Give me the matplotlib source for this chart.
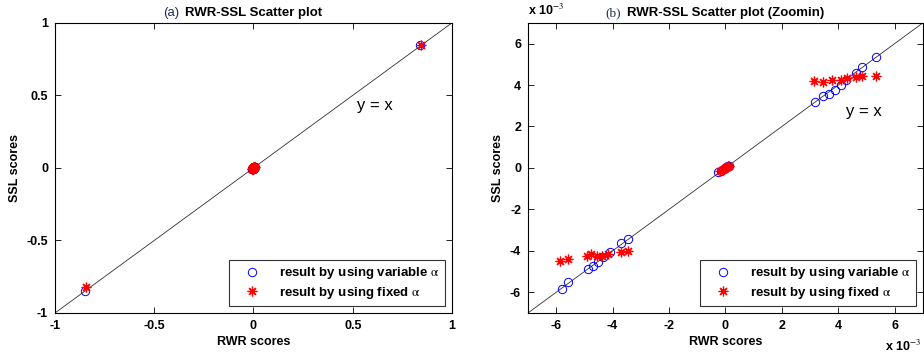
import matplotlib
matplotlib.use("Agg")
import matplotlib.pyplot as plt
from matplotlib.ticker import FixedLocator, FuncFormatter

plt.rcParams['font.family'] = ['Liberation Sans', 'DejaVu Sans']
plt.rcParams['mathtext.fontset'] = 'stix'

# ---- data (RWR score, SSL score) ----
var_x = [0.841, -0.851,
         -0.00025, -0.00015, -0.00006, 0.00002, 0.00008, 0.00012,
         -0.00581, -0.00557, -0.00486, -0.00469, -0.00451, -0.00433, -0.00410, -0.00369, -0.00345,
         0.00317, 0.00344, 0.00367, 0.00389, 0.00409, 0.00426, 0.00462, 0.00485, 0.00535]
var_y = [0.848, -0.848,
         -0.00022, -0.00013, -0.00005, 0.00003, 0.00007, 0.00011,
         -0.00583, -0.00551, -0.00487, -0.00471, -0.00455, -0.00431, -0.00407, -0.00364, -0.00343,
         0.00317, 0.00346, 0.00357, 0.00378, 0.00402, 0.00426, 0.00458, 0.00486, 0.00534]

fix_x = [0.842, -0.846,
         -0.00020, -0.00012, -0.00006, -0.00001, 0.00004, 0.00009, 0.00013,
         -0.00587, -0.00557, -0.00492, -0.00475, -0.00457, -0.00439, -0.00416, -0.00369, -0.00345,
         0.00312, 0.00347, 0.00379, 0.00409, 0.00430, 0.00462, 0.00485, 0.00534]
fix_y = [0.845, -0.822,
         -0.00017, -0.00010, -0.00003, 0.00001, 0.00004, 0.00007, 0.00010,
         -0.00447, -0.00439, -0.00423, -0.00415, -0.00423, -0.00423, -0.00415, -0.00407, -0.00399,
         0.00420, 0.00413, 0.00423, 0.00423, 0.00434, 0.00438, 0.00442, 0.00445]

ticks_a = [-1, -0.5, 0, 0.5, 1]
ticklabels_a = ["-1", "-0.5", "0", "0.5", "1"]
ticks_b = [-6, -4, -2, 0, 2, 4, 6]          # in units of 1e-3
scale_b = 1e-3

titles = ["RWR-SSL Scatter plot", "RWR-SSL Scatter plot (Zoomin)"]
panel_tags = ["(a)", "(b)"]
xlabel = "RWR scores"
ylabel = "SSL scores"
leg_labels = [r"result by using variable $\mathrm{\alpha}$",
              r"result by using fixed $\mathrm{\alpha}$"]

fig = plt.figure(figsize=(9.24, 3.6), dpi=100)
axA = fig.add_axes([0.0595, 0.1306, 0.4297, 0.806])
axB = fig.add_axes([0.5714, 0.1306, 0.4275, 0.806])

fs = 9
for ax in (axA, axB):
    ax.plot([-1, 1], [-1, 1], color='#303030', lw=0.6, zorder=1)
    ax.plot(var_x, var_y, linestyle='none', marker='o', markersize=6,
            markerfacecolor='none', markeredgecolor='blue', markeredgewidth=0.7,
            label=leg_labels[0], zorder=2)
    ax.plot(fix_x, fix_y, linestyle='none', marker=(8, 2, 0), markersize=7,
            color='red', markeredgewidth=0.9, label=leg_labels[1], zorder=3)
    ax.tick_params(direction='in', top=True, right=True, length=4, width=0.6,
                   labelsize=fs, pad=5)
    for s in ax.spines.values():
        s.set_linewidth(0.8)
    ax.set_xlabel(xlabel, fontsize=fs, fontweight='bold', labelpad=3)
    ax.set_ylabel(ylabel, fontsize=fs, fontweight='bold', labelpad=4)

# panel a
axA.set_xlim(-1, 1)
axA.set_ylim(-1, 1)
axA.set_xticks(ticks_a)
axA.set_xticklabels(ticklabels_a, fontweight='bold')
axA.set_yticks(ticks_a)
axA.set_yticklabels(ticklabels_a, fontweight='bold')
axA.text(0.52, 0.43, "y = x", fontsize=12, va='center', ha='left')

# panel b
axB.set_xlim(-7 * scale_b, 7 * scale_b)
axB.set_ylim(-7 * scale_b, 7 * scale_b)
fmt = FuncFormatter(lambda v, p: "%g" % round(v / scale_b, 6))
axB.xaxis.set_major_locator(FixedLocator([t * scale_b for t in ticks_b]))
axB.yaxis.set_major_locator(FixedLocator([t * scale_b for t in ticks_b]))
axB.xaxis.set_major_formatter(fmt)
axB.yaxis.set_major_formatter(fmt)
for lab in axB.get_xticklabels() + axB.get_yticklabels():
    lab.set_fontweight('bold')
axB.text(4.26 * scale_b, 2.74 * scale_b, "y = x", fontsize=12, va='center', ha='left')
axB.text(0.0, 1.015, r"x 10$^{-3}$", transform=axB.transAxes, fontsize=fs,
         fontweight='bold', ha='left', va='bottom')
axB.text(0.995, -0.09, r"x 10$^{-3}$", transform=axB.transAxes, fontsize=fs,
         fontweight='bold', ha='right', va='top')

for ax, title, tag, tagfam in zip((axA, axB), titles, panel_tags,
                                  (['Liberation Sans'], ['Liberation Serif'])):
    t = ax.set_title(title, fontsize=9.5, fontweight='bold', pad=5)
    ax.annotate(tag, xy=(0, 0.5), xycoords=t, xytext=(-4, 0),
                textcoords='offset points', ha='right', va='center',
                fontsize=9.5, color='#1f2d5a', family=tagfam)
    leg = ax.legend(loc='lower right', frameon=True, fancybox=False,
                    edgecolor='black', borderaxespad=0.5, handletextpad=0.8,
                    handlelength=2.6, borderpad=0.4, labelspacing=0.3,
                    prop={'weight': 'bold', 'size': 9.5})
    leg.get_frame().set_linewidth(0.8)

fig.savefig("out.png", dpi=100)
